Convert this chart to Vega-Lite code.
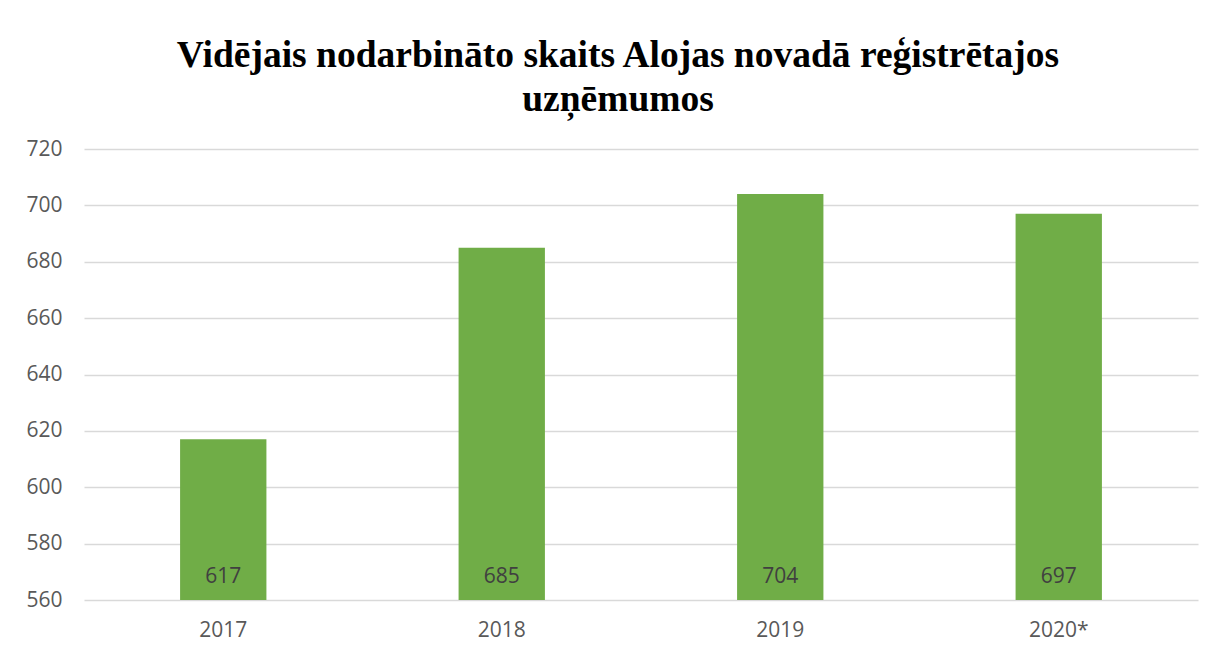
{
  "$schema": "https://vega.github.io/schema/vega-lite/v6.json",
  "width": 1114,
  "height": 451,
  "autosize": "none",
  "padding": {"left": 84, "top": 149, "right": 15, "bottom": 55},
  "background": "white",
  "config": {"view": {"stroke": null}},
  "title": {
    "text": ["Vidējais nodarbināto skaits Alojas novadā reģistrētajos", "uzņēmumos"],
    "font": "Liberation Serif",
    "fontSize": 37.5,
    "fontWeight": "bold",
    "color": "#000000",
    "lineHeight": 44,
    "anchor": "middle",
    "dx": -23,
    "offset": 38,
    "dy": 56,
    "baseline": "bottom"
  },
  "data": {
    "values": [
      {"year": "2017", "value": 617},
      {"year": "2018", "value": 685},
      {"year": "2019", "value": 704},
      {"year": "2020*", "value": 697}
    ]
  },
  "encoding": {
    "x": {
      "field": "year",
      "type": "nominal",
      "sort": null,
      "scale": {"paddingInner": 0.69, "paddingOuter": 0.345},
      "axis": {
        "title": null,
        "labelAngle": 0,
        "domain": false,
        "ticks": false,
        "labelFont": "Open Sans",
        "labelFontSize": 21,
        "labelColor": "#595959",
        "labelPadding": 19
      }
    }
  },
  "layer": [
    {
      "mark": {"type": "bar", "color": "#70AD47", "clip": true},
      "encoding": {
        "y": {
          "field": "value",
          "type": "quantitative",
          "scale": {"domain": [560, 720], "zero": false, "nice": false},
          "axis": {
            "title": null,
            "values": [560, 580, 600, 620, 640, 660, 680, 700, 720],
            "labelOverlap": false,
            "domain": false,
            "ticks": false,
            "grid": true,
            "gridColor": "#d9d9d9",
            "gridWidth": 1.5,
            "labelFont": "Open Sans",
            "labelFontSize": 21,
            "labelColor": "#595959",
            "labelPadding": 22
          }
        }
      }
    },
    {
      "mark": {
        "type": "text",
        "font": "Open Sans",
        "fontSize": 21,
        "color": "#404040",
        "baseline": "middle",
        "dy": -23
      },
      "encoding": {
        "y": {"datum": 560, "type": "quantitative"},
        "text": {"field": "value", "type": "quantitative"}
      }
    }
  ]
}
